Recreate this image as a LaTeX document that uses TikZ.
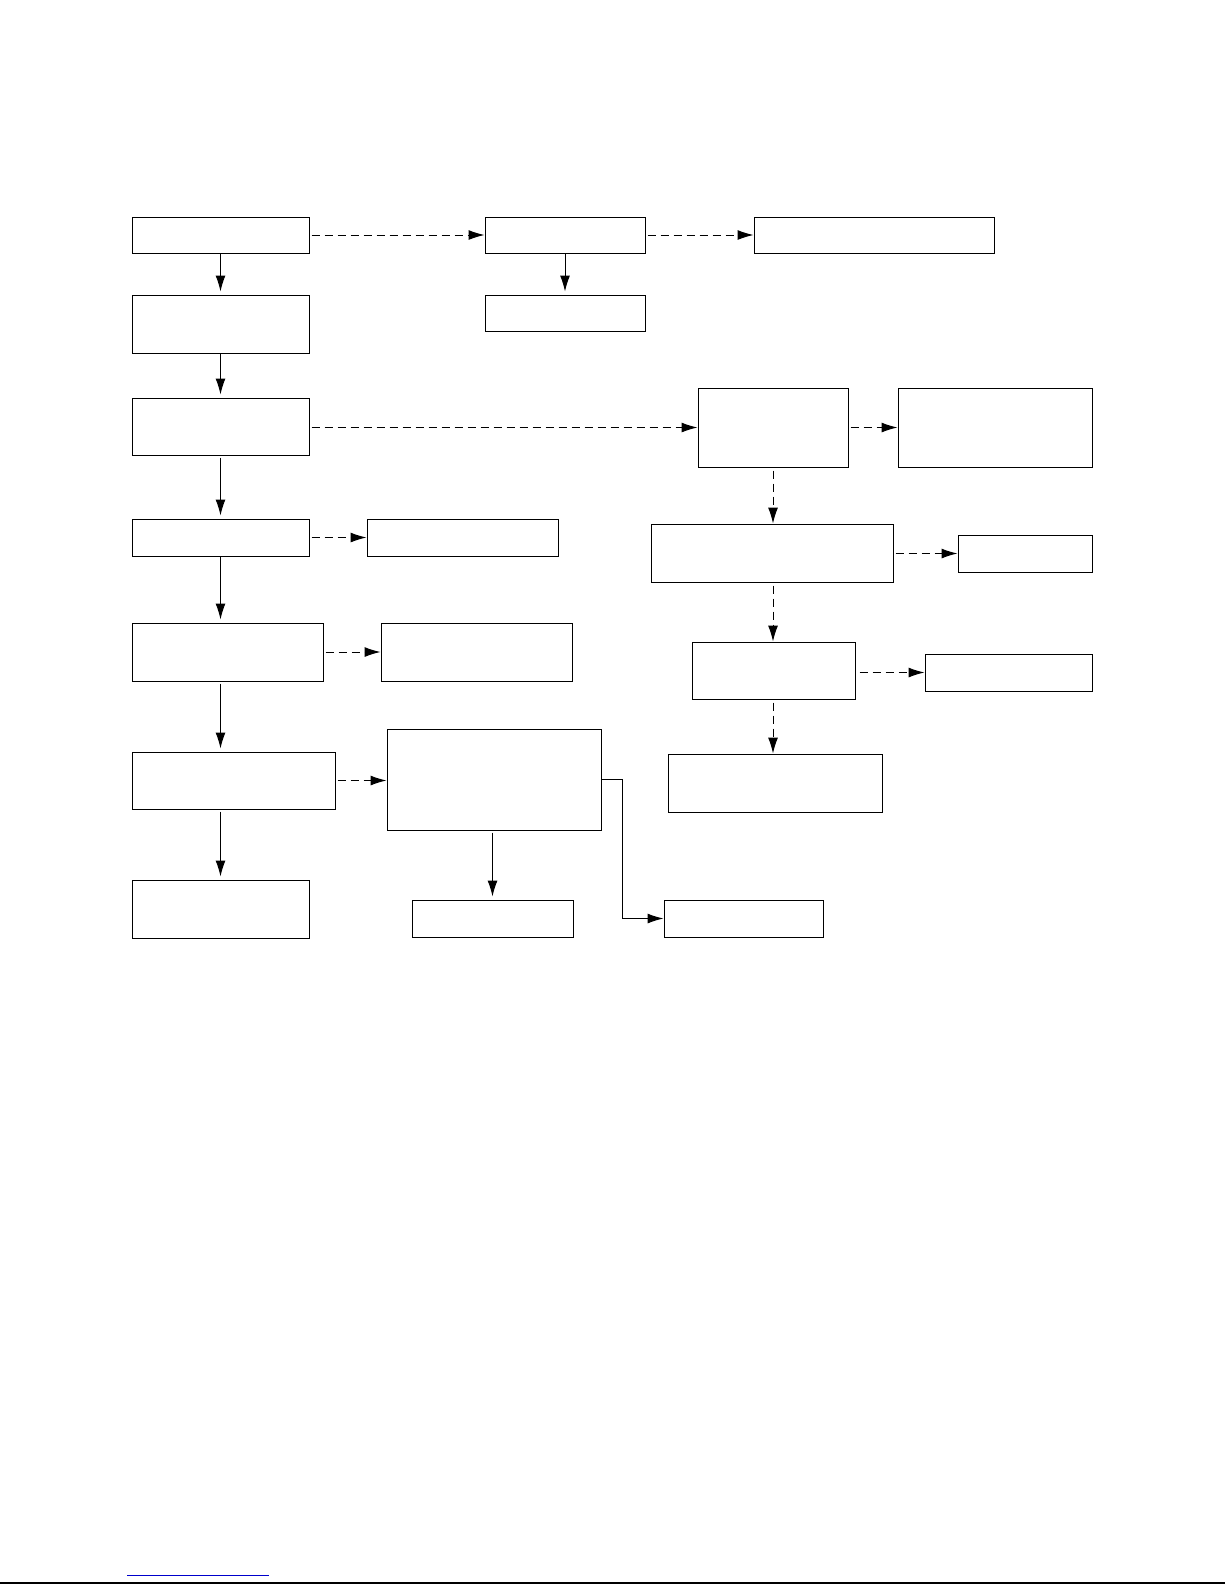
\documentclass[tikz,border=0pt]{standalone}
\usetikzlibrary{arrows.meta}
\begin{document}
\begin{tikzpicture}[x=0.5pt, y=-0.5pt, line width=0.5pt,
        >={Latex[length=8pt,width=5pt]}]
        \useasboundingbox (0,0) rectangle (1225,1585);
        \tikzstyle{every node}=[draw, inner sep=0pt, line width=0.5pt]
        % left column
        \node[minimum width=88.5pt,  minimum height=18pt]   (start)   at (220.5, 235)   {};
        \node[minimum width=88.5pt,  minimum height=29pt]   (check)   at (220.5, 324)   {};
        \node[minimum width=88.5pt,  minimum height=28.5pt] (load)    at (220.5, 426.5) {};
        \node[minimum width=88.5pt,  minimum height=18.5pt] (parse)   at (220.5, 537.5) {};
        \node[minimum width=95.5pt,  minimum height=29pt]   (build)   at (227.5, 652)   {};
        \node[minimum width=101.5pt, minimum height=28.5pt] (run)     at (233.5, 780.5) {};
        \node[minimum width=88.5pt,  minimum height=29pt]   (finish)  at (220.5, 909)   {};
        % top row
        \node[minimum width=80pt,    minimum height=18pt]   (fetch)   at (565, 235)     {};
        \node[minimum width=80pt,    minimum height=18pt]   (cache)   at (565, 313)     {};
        \node[minimum width=120pt,   minimum height=18pt]   (remote)  at (874, 235)     {};
        % middle boxes
        \node[minimum width=95.5pt,  minimum height=18.5pt] (warn)    at (462.5, 537.5) {};
        \node[minimum width=95.5pt,  minimum height=29pt]   (log)     at (476.5, 652)   {};
        \node[minimum width=107pt,   minimum height=50.5pt] (worker)  at (494, 779.5)   {};
        \node[minimum width=80.5pt,  minimum height=18.5pt] (result)  at (492.5, 918.5) {};
        \node[minimum width=79.5pt,  minimum height=18.5pt] (error)   at (743.5, 918.5) {};
        % right column
        \node[minimum width=75pt,    minimum height=39.5pt] (plugin)  at (773, 427.5)   {};
        \node[minimum width=97pt,    minimum height=39.5pt] (config)  at (995, 427.5)   {};
        \node[minimum width=121pt,   minimum height=29pt]   (resolve) at (772, 553)     {};
        \node[minimum width=67pt,    minimum height=18.5pt] (skip)    at (1025, 553.5)  {};
        \node[minimum width=81.5pt,  minimum height=28.5pt] (apply)   at (773.5, 670.5) {};
        \node[minimum width=83.5pt,  minimum height=18.5pt] (fail)    at (1008.5, 672.5) {};
        \node[minimum width=107pt,   minimum height=29pt]   (output)  at (775, 783)     {};
        \tikzstyle{every node}=[draw=none]
        \tikzstyle{opt}=[dash pattern=on 4pt off 2.5pt]
        % main flow
        \draw[->, shorten >=1.5pt] (start) -- (check);
        \draw[->, shorten >=1.5pt] (check) -- (load);
        \draw[->, shorten >=1.5pt, shorten <=1pt] (load) -- (parse);
        \draw[->, shorten >=1.5pt] (parse.south) -- (parse.south |- build.north);
        \draw[->, shorten >=1.5pt, shorten <=1pt] (build.south -| finish.north) -- (run.north -| finish.north);
        \draw[->, shorten >=1.5pt, shorten <=1pt] (run.south -| finish.north) -- (finish.north);
        \draw[->, shorten >=1.5pt] (fetch) -- (cache);
        \draw[->, shorten >=1.5pt, shorten <=1pt] (worker.south -| result.north) -- (result.north);
        \coordinate (bend) at (622, 779.5);
        \draw[->] (worker.east) -- (bend) |- (error.west);
        % optional paths
        \draw[->, opt, shorten <=1pt] (start) -- (fetch);
        \draw[->, opt, shorten <=1pt] (fetch) -- (remote);
        \draw[->, opt, shorten <=1pt] (load.east |- plugin.west) -- (plugin.west);
        \draw[->, opt, shorten <=1pt] (plugin) -- (config);
        \draw[->, opt, shorten <=1.5pt] (plugin.south) -- (plugin.south |- resolve.north);
        \draw[->, opt, shorten <=1pt] (resolve.east |- skip.west) -- (skip.west);
        \draw[->, opt, shorten <=1.5pt] (resolve.south -| plugin.south) -- (apply.north -| plugin.south);
        \draw[->, opt, shorten <=2pt] (apply.east |- fail.west) -- (fail.west);
        \draw[->, opt, shorten <=1.5pt] (apply.south -| plugin.south) -- (output.north -| plugin.south);
        \draw[->, opt, shorten <=1pt] (parse) -- (warn);
        \draw[->, opt, shorten <=1pt] (build) -- (log);
        \draw[->, opt, shorten <=1pt] (run.east) -- (run.east -| worker.west);
        % page marks
        \draw[blue!80!black] (127, 1575) -- (269, 1575);
        \draw[line width=0.8pt] (0, 1583) -- (1225, 1583);
    \end{tikzpicture}
\end{document}
